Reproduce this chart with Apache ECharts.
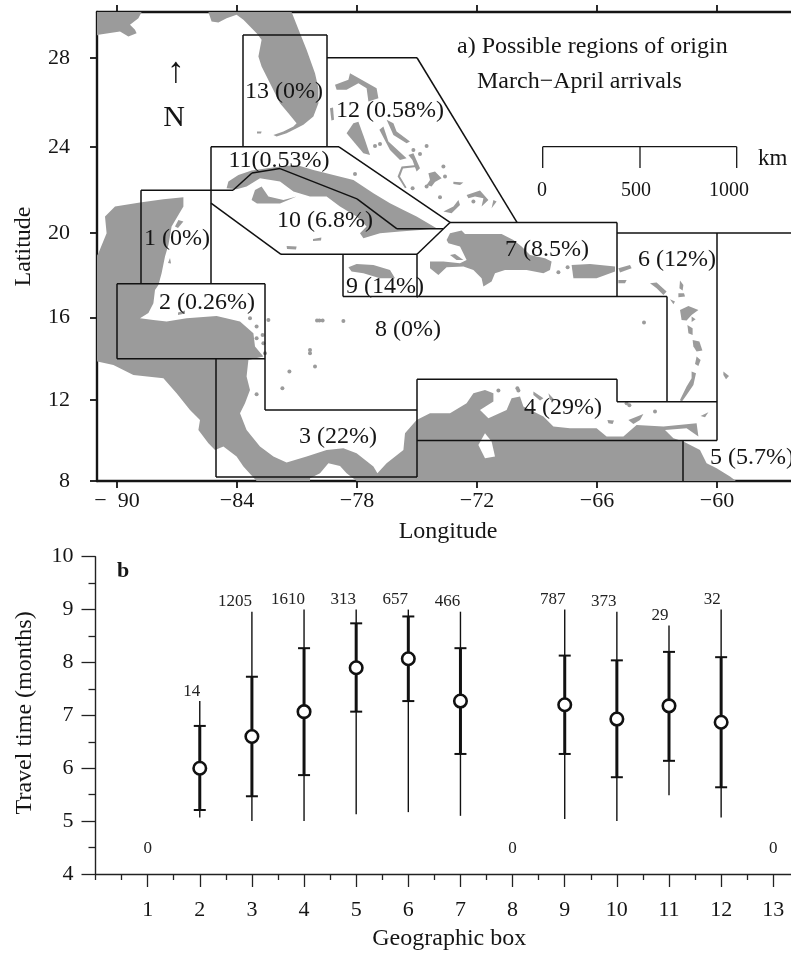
<!DOCTYPE html>
<html><head><meta charset="utf-8">
<style>html,body{margin:0;padding:0;background:#fff}#c{width:791px;height:953px}</style>
<script src="https://cdn.jsdelivr.net/npm/echarts@6/dist/echarts.min.js"></script>
</head><body><div id="c"></div>
<script>
// ---------- panel b data ----------
const boxNumbers = [2,3,4,5,6,7,9,10,11,12];
const meanTime   = [6.0,6.6,7.07,7.9,8.07,7.27,7.2,6.93,7.18,6.87];
const sdLow      = [5.21,5.47,5.87,7.07,7.27,6.27,6.27,5.83,6.14,5.64];
const sdHigh     = [6.8,7.73,8.27,8.74,8.87,8.27,8.13,8.04,8.2,8.1];
const rangeLow   = [5.07,5.0,5.0,5.13,5.17,5.1,5.04,5.0,5.49,5.07];
const rangeHigh  = [7.27,8.96,9.0,9.0,9.0,8.96,9.0,8.96,8.7,9.0];
const counts     = [14,1205,1610,313,657,466,787,373,29,32];
const emptyBoxes = [1,8,13];
const emptyCount = 0;
const emptyLabelTime = 4.49;
const boxTicks   = [1,2,3,4,5,6,7,8,9,10,11,12,13];
const halfTicks  = [0,0.5,1.5,2.5,3.5,4.5,5.5,6.5,7.5,8.5,9.5,10.5,11.5,12.5];
const countShift = [-8,-17,-16,-13,-13,-13,-12,-13,-9,-9];

// ---------- panel a data ----------
const lonTicks = [-90,-84,-78,-72,-66,-60];
const latTicks = [8,12,16,20,24,28];
// region box outlines as [lon, lat]
const boxLines = [
 [[-83.7,24],[-83.7,29],[-79.5,29],[-79.5,24]],
 [[-79.5,28],[-75,28],[-70,20.5]],
 [[-85.3,17.6],[-85.3,24],[-78.9,24],[-73.35,20.5],[-75,19],[-81.8,19],[-85.3,21.4]],
 [[-88.8,17.6],[-88.8,22],[-84.2,22],[-83.25,22.8],[-81.85,23],[-78,21.6],[-76,20.2],[-73.7,20.2]],
 [[-73.35,20.5],[-65,20.5],[-65,17]],
 [[-75,19],[-75,17]],
 [[-78.7,19],[-78.7,17],[-62.5,17],[-62.5,11.9]],
 [[-65,20],[-56.3,20]],
 [[-60,20],[-60,10],[-75,10]],
 [[-75,8.2],[-75,13],[-65,13],[-65,11.9],[-60,11.9]],
 [[-90,14],[-90,17.6],[-82.6,17.6],[-82.6,11.5],[-75,11.5]],
 [[-90,14],[-82.6,14]],
 [[-85.05,14],[-85.05,8.2],[-75,8.2]],
 [[-61.7,10],[-61.7,8]]
];
// land outlines as [lon, Mercator-stretched latitude]
const mainland = [[-91,19.3],[-90.93,19.41],[-90.52,20.41],[-90.6,21.25],[-90.1,21.75],[-88.85,21.95],[-87.68,22.11],[-86.68,22.21],[-86.68,21.75],[-87.27,20.75],[-87.43,19.83],[-87.6,19.25],[-87.77,18.41],[-87.93,17.83],[-88.1,17.58],[-88.18,16.91],[-88.43,16.43],[-88.85,16.16],[-88.18,16.08],[-87.52,16],[-86.52,16.16],[-85.02,16.28],[-83.85,16],[-83.18,15.41],[-83.1,14.75],[-82.68,14.25],[-83.43,14.08],[-83.52,13.25],[-83.35,12.58],[-83.6,11.91],[-83.85,11.41],[-83.52,10.58],[-82.85,9.75],[-82.18,9.25],[-81.52,8.95],[-80.52,9.25],[-79.52,9.58],[-78.68,9.66],[-78.02,9.41],[-77.18,8.75],[-76.98,8.41],[-76.52,8.91],[-75.68,9.58],[-75.6,10.41],[-75.02,11.08],[-74.35,11.41],[-73.35,11.41],[-72.52,11.91],[-72.18,12.41],[-71.6,12.58],[-71.18,12.41],[-71.18,12.0],[-71.85,11.58],[-71.43,11.16],[-70.52,11.58],[-70.27,12.16],[-69.85,12.25],[-69.68,11.75],[-68.68,11.25],[-68.18,10.75],[-67.35,10.66],[-66.02,10.66],[-65.52,10.25],[-64.68,10.25],[-64.02,10.83],[-62.68,10.75],[-61.02,10.91],[-60.93,10.25],[-61.52,10.66],[-62.6,10.58],[-62.18,10.16],[-61.68,10.0],[-60.85,9.58],[-60.52,8.91],[-60.02,8.66],[-59.35,8.25],[-59.05,8.03],[-78.02,8.03],[-78.52,8.41],[-78.85,8.78],[-79.43,8.91],[-79.85,8.41],[-80.35,8.16],[-80.35,8.03],[-83.02,8.03],[-83.68,8.75],[-84.02,9.25],[-84.68,9.75],[-85.1,9.58],[-85.43,9.91],[-85.93,10.58],[-85.85,11.08],[-86.35,11.58],[-87.02,12.41],[-87.68,13.16],[-89.18,13.33],[-90.18,13.83],[-90.98,14.0],[-91,14.0]];
const florida = [[-85.43,31.47],[-81.27,31.47],[-80.85,30.41],[-80.52,29.58],[-80.1,28.41],[-79.93,27.66],[-79.93,26.91],[-80.18,26.25],[-80.68,25.83],[-81.02,25.66],[-81.52,25.41],[-82.02,25.25],[-82.18,25.33],[-81.68,25.5],[-81.18,25.75],[-81.02,25.91],[-81.43,26.41],[-81.85,26.91],[-82.35,27.91],[-82.77,28.75],[-82.93,29.25],[-82.77,30.08],[-83.02,30.41],[-83.35,30.75],[-83.68,31.08],[-84.02,31.33],[-84.52,31.16],[-84.93,30.95],[-85.27,31.0]];
const gulfCoast = [[-91,31.47],[-88.77,31.47],[-88.93,31.16],[-89.35,30.83],[-89.1,30.58],[-89.02,30.41],[-89.43,30.25],[-89.85,30.5],[-90.93,30.33],[-91,30.3]];
const cuba = [[-84.52,22.66],[-84.43,23.0],[-83.93,23.33],[-83.27,23.55],[-81.85,23.75],[-81.02,23.83],[-80.18,23.58],[-79.18,23.33],[-78.18,23.08],[-77.18,22.41],[-76.35,21.91],[-75.68,21.58],[-75.02,21.25],[-74.02,20.66],[-74.85,20.58],[-75.85,20.5],[-76.85,20.41],[-77.68,20.16],[-77.85,20.41],[-77.52,20.75],[-78.02,21.25],[-78.85,21.75],[-79.52,22.25],[-80.35,22.25],[-81.18,22.5],[-81.85,23.0],[-82.85,23.16],[-83.52,22.75],[-84.02,22.61]];
const zapata = [[-83.27,22.08],[-83.1,22.58],[-82.77,22.75],[-82.43,22.25],[-81.68,22.08],[-81.02,22.25],[-81.85,21.9],[-83.0,21.9]];
const jamaica = [[-78.43,18.71],[-78.02,18.88],[-77.18,18.83],[-76.35,18.58],[-76.1,18.16],[-76.85,18.16],[-77.68,18.41],[-78.27,18.5]];
const hispaniola = [[-73.52,20.08],[-73.35,20.41],[-72.77,20.55],[-72.6,20.38],[-71.85,20.38],[-70.77,20.38],[-70.18,20.08],[-69.77,19.75],[-69.35,19.33],[-68.6,19.16],[-68.27,19.0],[-68.35,18.58],[-68.68,18.41],[-69.52,18.58],[-70.6,18.58],[-71.1,18.41],[-71.27,18.0],[-71.68,17.75],[-71.77,18.16],[-72.18,18.58],[-72.68,18.75],[-73.52,18.71],[-73.93,18.33],[-74.35,18.66],[-74.35,19.0],[-73.68,19.0],[-72.85,18.91],[-72.52,19.08],[-72.85,19.75],[-73.43,19.91]];
const gonave = [[-73.35,19.33],[-73.1,19.38],[-72.68,19.08],[-73.02,19.08]];
const puertoRico = [[-67.27,18.83],[-66.35,18.88],[-65.1,18.75],[-65.1,18.5],[-66.02,18.16],[-67.18,18.16]];
const bahamas = [
 [[-79.1,27.83],[-78.43,28.08],[-78.35,28.41],[-77.77,28.08],[-77.02,27.66],[-76.93,27.16],[-77.43,27.0],[-77.52,27.66],[-77.93,27.91],[-78.52,27.58],[-79.02,27.58]],
 [[-79.35,26.66],[-79.2,26.7],[-79.15,26.08],[-79.28,26.05]],
 [[-78.52,25.41],[-78.18,25.91],[-77.93,25.98],[-77.6,25.08],[-77.35,24.33],[-77.68,24.41],[-78.1,24.91]],
 [[-76.88,25.58],[-76.68,25.75],[-76.43,25.0],[-75.52,24.16],[-75.85,24.08],[-76.35,24.58]],
 [[-76.52,26.08],[-76.18,25.91],[-76.02,25.5],[-75.35,25.0],[-75.52,24.91],[-76.18,25.33]],
 [[-75.43,24.33],[-75.18,24.41],[-74.85,23.66],[-75.02,23.5],[-75.23,24.08]],
 [[-75.02,23.83],[-75.77,23.75],[-75.97,23.25],[-75.6,22.66],[-75.52,22.7],[-75.85,23.25],[-75.7,23.65],[-75.0,23.72]],
 [[-74.43,23.41],[-74.1,23.5],[-73.77,23.16],[-74.1,22.98],[-74.27,22.75],[-74.52,22.83],[-74.35,23.08]],
 [[-73.18,22.99],[-72.68,22.95],[-72.85,22.83],[-73.18,22.88]],
 [[-73.68,21.5],[-73.18,21.75],[-72.93,22.08],[-72.85,21.83],[-73.27,21.41]],
 [[-72.52,22.33],[-71.85,22.55],[-71.43,22.08],[-71.77,21.75],[-71.68,22.16],[-72.1,22.25],[-72.43,22.16]],
 [[-71.18,22.08],[-71.02,22.0],[-71.27,21.66]]
];
const antilles = [
 [[-64.93,18.66],[-64.35,18.83],[-64.27,18.66],[-64.85,18.45]],
 [[-64.93,18.08],[-64.52,18.08],[-64.6,17.91],[-64.93,17.91]],
 [[-63.35,17.91],[-63.02,17.95],[-62.52,17.5],[-62.68,17.33],[-63.02,17.66]],
 [[-61.85,18.05],[-61.68,17.83],[-61.72,17.55],[-61.88,17.66]],
 [[-61.93,17.41],[-61.65,17.41],[-61.6,17.25],[-61.93,17.21]],
 [[-62.35,17.11],[-62.1,17.0],[-62.18,16.86]],
 [[-61.85,16.58],[-61.43,16.78],[-60.93,16.58],[-61.27,16.33],[-61.52,16.05],[-61.77,16.08]],
 [[-61.27,16.25],[-61.07,16.11],[-61.27,15.98]],
 [[-61.48,15.83],[-61.22,15.66],[-61.22,15.33],[-61.43,15.41]],
 [[-61.22,15.08],[-60.88,15.0],[-60.73,14.55],[-61.02,14.5],[-61.18,14.75]],
 [[-61.02,14.25],[-60.82,14.08],[-60.93,13.78],[-61.1,13.88]],
 [[-61.27,13.5],[-61.05,13.41],[-61.18,12.83],[-61.52,12.33],[-61.77,11.98],[-61.85,12.08],[-61.52,12.75],[-61.27,13.16]],
 [[-59.68,13.5],[-59.4,13.28],[-59.55,13.11],[-59.68,13.33]],
 [[-60.82,11.28],[-60.43,11.46],[-60.6,11.21]],
 [[-69.18,12.5],[-68.68,12.16],[-68.85,12.05],[-69.18,12.33]],
 [[-68.43,12.41],[-68.15,12.11],[-68.35,12.08]],
 [[-65.48,11.08],[-65.15,11.05],[-65.22,10.88],[-65.43,10.91]],
 [[-64.43,11.08],[-63.68,11.38],[-63.85,11.08],[-64.18,10.88]]
];
const smallLand = [
 [[-81.52,19.78],[-81.02,19.75],[-81.05,19.6],[-81.5,19.62]],
 [[-80.2,20.13],[-79.78,20.2],[-79.8,20.05],[-80.2,20.03]],
 [[-83.0,25.5],[-82.77,25.5],[-82.8,25.4],[-83,25.4]],
 [[-86.93,21.08],[-86.68,21.0],[-86.95,20.68],[-87.1,20.75]],
 [[-87.35,19.17],[-87.3,18.9],[-87.45,18.92]],
 [[-86.95,16.45],[-86.6,16.55],[-86.6,16.4],[-86.95,16.33]]
];
const lakes = [[[-71.6,10.41],[-71.93,9.83],[-71.6,9.16],[-71.1,9.25],[-71.27,10.0]]];
const tinyIslands = [[-82.43,16.08],[-79.88,16.05],[-80.0,16.05],[-79.72,16.05],[-78.68,16.03],[-80.35,14.58],[-80.35,14.41],[-80.1,13.75],[-81.38,13.5],[-81.73,12.66],[-83.02,12.36],[-83.35,16.16],[-83.02,15.75],[-82.72,15.33],[-83.02,15.16],[-82.68,14.91],[-82.6,14.41],[-63.65,15.95],[-70.93,12.55],[-69.98,12.66],[-69.93,12.55],[-64.52,11.91],[-64.38,11.81],[-63.1,11.5],[-67.93,18.46],[-67.47,18.71],[-74.52,24.78],[-74.85,24.38],[-75.18,24.58],[-73.68,23.75],[-73.6,23.25],[-72.18,22.0],[-77.1,24.78],[-76.85,24.88],[-74.52,22.75],[-75.22,22.66],[-73.85,22.21],[-78.1,23.38]];
const regionLabels = ['13 (0%)','12 (0.58%)','11(0.53%)','10 (6.8%)','1 (0%)','2 (0.26%)','3 (22%)','4 (29%)','5 (5.7%)','6 (12%)','7 (8.5%)','8 (0%)','9 (14%)'];
const regionLabelLon = [-81.65,-76.35,-81.9,-79.6,-87,-85.5,-78.95,-67.7,-58.25,-62,-68.5,-75.45,-76.6];
const regionLabelY   = [27.48,26.53,24.03,21.03,20.13,16.93,10.23,11.68,9.18,19.08,19.58,15.58,17.73];

// ---------- helpers ----------
const merc = lat => Math.log(Math.tan(Math.PI/4 + lat*Math.PI/360))*180/Math.PI;
const SERIF = '"Liberation Serif","Times New Roman",serif';
const INK = '#151515', LAND = '#9b9b9b';
const land = [mainland,florida,gulfCoast,cuba,zapata,jamaica,hispaniola,gonave,puertoRico,...bahamas,...antilles,...smallLand];
const boxes = boxLines.map(l => l.map(p => [p[0], merc(p[1])]));
const labelStyle = (size) => ({fontFamily:SERIF,fontSize:size,color:INK});
const polySeries = (name, polys, fill) => ({
  type:'custom', name, xAxisIndex:0, yAxisIndex:0, silent:true,
  data: polys.map((_,i)=>[i]), encode:{x:-1,y:-1},
  renderItem:(p,api)=>({type:'polygon',shape:{points:polys[p.dataIndex].map(q=>api.coord(q))},style:{fill}})
});
const gt = (text,x,y,size,extra) => ({type:'text',x,y,style:Object.assign({text,fontFamily:SERIF,fontSize:size,fill:INK,align:'left',verticalAlign:'middle'},extra||{})});
const gl = (x1,y1,x2,y2) => ({type:'line',shape:{x1,y1,x2,y2},style:{stroke:INK,lineWidth:1.3}});

const chart = echarts.init(document.getElementById('c'),null,{renderer:'canvas'});
chart.setOption({
  backgroundColor:'#fff', animation:false,
  grid:[{left:97,top:12,width:694,height:469},{left:95.5,top:556.7,width:695.5,height:317.3}],
  xAxis:[
   {gridIndex:0,type:'value',position:'bottom',min:-91,max:-56.3,splitLine:{show:false},
    axisLine:{lineStyle:{color:INK,width:2.4}},
    axisTick:{length:7,customValues:lonTicks,lineStyle:{color:INK,width:1.8}},
    axisLabel:Object.assign(labelStyle(22),{margin:9,customValues:lonTicks,formatter:v=>v===-90?'\u2212  90':'\u2212'+Math.abs(v)}),
    name:'Longitude',nameLocation:'middle',nameGap:39,nameTextStyle:Object.assign(labelStyle(24),{padding:[0,0,0,8]})},
   {gridIndex:0,type:'value',position:'top',min:-91,max:-56.3,splitLine:{show:false},
    axisLine:{lineStyle:{color:INK,width:2.4}},
    axisTick:{length:7,customValues:lonTicks,lineStyle:{color:INK,width:1.8}},axisLabel:{show:false}},
   {gridIndex:1,type:'value',position:'bottom',min:0,max:13.34,splitLine:{show:false},
    axisLine:{lineStyle:{color:'#222',width:1.4}},
    axisTick:{length:13,customValues:boxTicks,lineStyle:{color:'#222',width:1.3}},
    axisLabel:Object.assign(labelStyle(22),{margin:25,customValues:boxTicks}),
    name:'Geographic box',nameLocation:'middle',nameGap:53,nameTextStyle:Object.assign(labelStyle(24),{padding:[0,0,0,12]})},
   {gridIndex:1,type:'value',position:'bottom',min:0,max:13.34,splitLine:{show:false},
    axisLine:{show:false},
    axisTick:{length:6,customValues:halfTicks,lineStyle:{color:'#222',width:1.3}},axisLabel:{show:false}}
  ],
  yAxis:[
   {gridIndex:0,type:'value',min:merc(8),max:merc(30),splitLine:{show:false},
    axisLine:{show:true,lineStyle:{color:INK,width:2.4}},
    axisTick:{show:true,length:7,customValues:latTicks.map(merc),lineStyle:{color:INK,width:1.8}},
    axisLabel:Object.assign(labelStyle(22),{margin:27,customValues:latTicks.map(merc),
      formatter:v=>String(latTicks.reduce((a,b)=>Math.abs(merc(b)-v)<Math.abs(merc(a)-v)?b:a))}),
    name:'Latitude',nameLocation:'middle',nameGap:61,nameRotate:90,nameTextStyle:labelStyle(24)},
   {gridIndex:1,type:'value',min:4,max:10,interval:1,splitLine:{show:false},
    axisLine:{show:true,lineStyle:{color:'#222',width:1.4}},
    axisTick:{show:true,length:14,lineStyle:{color:'#222',width:1.3}},
    minorTick:{show:true,splitNumber:2,length:7,lineStyle:{color:'#222',width:1.3}},
    axisLabel:Object.assign(labelStyle(22),{margin:22}),
    name:'Travel time (months)',nameLocation:'middle',nameGap:59,nameRotate:90,nameTextStyle:Object.assign(labelStyle(24),{padding:[0,0,0,5]})}
  ],
  series:[
   polySeries('Land',land,LAND),
   polySeries('Lakes',lakes,'#fff'),
   {type:'scatter',name:'Small islands',xAxisIndex:0,yAxisIndex:0,silent:true,symbolSize:4,
    itemStyle:{color:LAND,opacity:1},data:tinyIslands},
   {type:'custom',name:'Region boxes',xAxisIndex:0,yAxisIndex:0,silent:true,z:3,
    data:boxes.map((_,i)=>[i]),encode:{x:-1,y:-1},
    renderItem:(p,api)=>{const pts=boxes[p.dataIndex].map(q=>api.coord(q));
      return {type:'group',children:pts.slice(1).map((b,i)=>({type:'line',
        shape:{x1:pts[i][0],y1:pts[i][1],x2:b[0],y2:b[1]},style:{stroke:'#111',lineWidth:1.5}}))};}},
   {type:'custom',name:'Region labels',xAxisIndex:0,yAxisIndex:0,silent:true,z:4,
    data:regionLabels.map((_,i)=>[i]),encode:{x:-1,y:-1},
    renderItem:(p,api)=>{const c=api.coord([regionLabelLon[p.dataIndex],regionLabelY[p.dataIndex]]);
      return {type:'text',style:{text:regionLabels[p.dataIndex],x:c[0],y:c[1],fontFamily:SERIF,fontSize:24,fill:INK,align:'center',verticalAlign:'middle'}};}},
   // panel b
   {type:'custom',name:'Range',xAxisIndex:2,yAxisIndex:1,silent:true,z:3,
    data:boxNumbers.map((b,i)=>[b,rangeLow[i],rangeHigh[i]]),
    renderItem:(p,api)=>{const a=api.coord([api.value(0),api.value(1)]),b=api.coord([api.value(0),api.value(2)]);
      return {type:'line',shape:{x1:a[0],y1:a[1],x2:b[0],y2:b[1]},style:{stroke:'#111',lineWidth:1.4}};}},
   {type:'custom',name:'SD',xAxisIndex:2,yAxisIndex:1,silent:true,z:4,
    data:boxNumbers.map((b,i)=>[b,sdLow[i],sdHigh[i]]),
    renderItem:(p,api)=>{const a=api.coord([api.value(0),api.value(1)]),b=api.coord([api.value(0),api.value(2)]);
      const st={stroke:'#111',lineWidth:3},cap={stroke:'#111',lineWidth:2};
      return {type:'group',children:[
        {type:'line',shape:{x1:a[0],y1:a[1],x2:b[0],y2:b[1]},style:st},
        {type:'line',shape:{x1:a[0]-6,y1:a[1],x2:a[0]+6,y2:a[1]},style:cap},
        {type:'line',shape:{x1:b[0]-6,y1:b[1],x2:b[0]+6,y2:b[1]},style:cap}]};}},
   {type:'scatter',name:'Mean',xAxisIndex:2,yAxisIndex:1,silent:true,z:5,symbol:'circle',symbolSize:12.5,
    itemStyle:{color:'#fff',borderColor:'#111',borderWidth:2.6,opacity:1},
    data:boxNumbers.map((b,i)=>[b,meanTime[i]])},
   {type:'custom',name:'Counts',xAxisIndex:2,yAxisIndex:1,silent:true,z:6,
    data:boxNumbers.map((b,i)=>[b,rangeHigh[i],counts[i],countShift[i]]),
    renderItem:(p,api)=>{const c=api.coord([api.value(0),api.value(1)]);
      return {type:'text',style:{text:String(api.value(2)),x:c[0]+api.value(3),y:c[1]-10,fontFamily:SERIF,fontSize:17,fill:'#222',align:'center',verticalAlign:'middle'}};}},
   {type:'custom',name:'Empty',xAxisIndex:2,yAxisIndex:1,silent:true,z:6,
    data:emptyBoxes.map(b=>[b,emptyLabelTime]),
    renderItem:(p,api)=>{const c=api.coord([api.value(0),api.value(1)]);
      return {type:'text',style:{text:String(emptyCount),x:c[0],y:c[1],fontFamily:SERIF,fontSize:17,fill:'#222',align:'center',verticalAlign:'middle'}};}}
  ],
  graphic:[
   gt('a) Possible regions of origin',457,47,24),
   gt('March\u2212April arrivals',477,82,24),
   gt('\u2191',176,73,36,{align:'center'}),
   gt('N',174,118,30,{align:'center'}),
   gl(542.7,146.7,736.7,146.7),gl(542.7,146.7,542.7,168),gl(640,146.7,640,168),gl(736.7,146.7,736.7,168),
   gt('km',758,159,23),
   gt('0',542,191,20,{align:'center'}),
   gt('500',636,191,20,{align:'center'}),
   gt('1000',729,191,20,{align:'center'}),
   gt('b',123,571,22,{fontWeight:'bold',align:'center'})
  ]
});
</script></body></html>
